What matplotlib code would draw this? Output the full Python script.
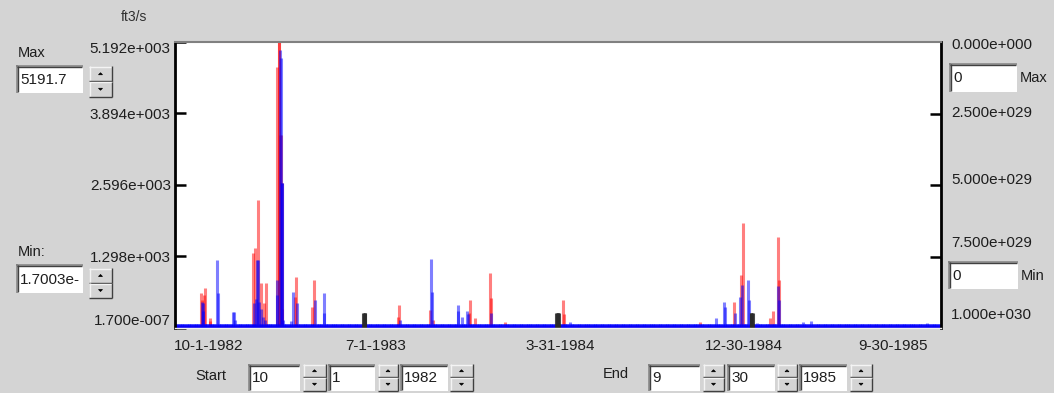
import numpy as np
import matplotlib
matplotlib.use("Agg")
import matplotlib.pyplot as plt
from matplotlib.patches import Rectangle, Polygon
from matplotlib.lines import Line2D

# ---------------- data ----------------
n_days = 1096                      # 10-1-1982 .. 9-30-1985, daily
y_min = 1.7e-7
y_max = 5191.7
left_ticks = [1.7e-7, 1298.0, 2596.0, 3894.0, 5191.7]
right_tick_vals = [2.5e29, 5.0e29, 7.5e29]
right_labels = ["0.000e+000", "2.500e+029", "5.000e+029", "7.500e+029", "1.000e+030"]
date_labels = ["10-1-1982", "7-1-1983", "3-31-1984", "12-30-1984", "9-30-1985"]

red_base = 45.0
blue_base = 65.0

red_days = [37, 38, 41, 42, 49, 50, 111, 114, 118, 122, 127, 130, 146, 148, 149, 150, 151,
            152, 153, 171, 173, 196, 199, 319, 320, 364, 368, 420, 421, 429, 450, 451, 471,
            555, 556, 750, 800, 809, 812, 851, 855, 862, 863]
red_vals = [640, 500, 600, 720, 180, 120, 1360, 1450, 2320, 815, 450, 815, 4740, 5192, 5192,
            3500, 3500, 2630, 350, 570, 930, 390, 870, 200, 415, 330, 150, 280, 510, 180,
            1005, 540, 115, 510, 250, 100, 480, 960, 1905, 180, 300, 1650, 870]

blue_days = [38, 39, 40, 60, 61, 83, 84, 85, 113, 115, 117, 118, 120, 122, 125, 128, 145,
             146, 150, 151, 152, 153, 154, 165, 169, 174, 200, 212, 213, 321, 366, 367, 404,
             405, 410, 417, 419, 452, 564, 774, 785, 787, 801, 808, 811, 820, 821, 832, 862,
             863, 898, 909, 1076]
blue_vals = [480, 460, 300, 1235, 635, 290, 290, 150, 450, 520, 1235, 1235, 480, 350, 200,
             150, 600, 870, 5050, 4900, 2630, 2630, 140, 130, 660, 450, 500, 635, 270, 150,
             1250, 660, 415, 300, 205, 300, 250, 280, 115, 180, 480, 380, 270, 570, 780, 870,
             510, 90, 760, 500, 100, 130, 90]

black_days = [269, 270, 271, 272, 545, 546, 547, 548, 549, 823, 824, 825, 826]
black_vals = [265, 270, 270, 265, 265, 270, 270, 270, 265, 265, 270, 270, 265]

# ---------------- figure ----------------
W, H = 1054, 393
BG = "#d4d4d4"
FONT = "Liberation Sans"
TXT = "#1e1e1e"
plt.rcParams["font.family"] = [FONT, "DejaVu Sans"]

fig = plt.figure(figsize=(W / 100, H / 100), dpi=100, facecolor=BG)


def fx(x):
    return x / W


def fy(y):
    return 1 - y / H


ax_l, ax_r, ax_t, ax_b = 175, 941, 42, 328
ax = fig.add_axes([fx(ax_l), fy(ax_b), (ax_r - ax_l) / W, (ax_b - ax_t) / H])
ax.set_facecolor("white")

days = np.arange(n_days)
red = np.full(n_days, red_base)
red[red_days] = red_vals
blue = np.full(n_days, blue_base)
blue[blue_days] = blue_vals
black = np.zeros(n_days)
black[black_days] = black_vals

lw = 2.2
ax.vlines(days, 0, red, colors="#ff0000", alpha=0.5, lw=lw)
ax.vlines(days, 0, blue, colors="#0000ff", alpha=0.5, lw=lw)
nz = black > 0
ax.vlines(days[nz], 0, black[nz], colors="#2a2a2a", alpha=0.85, lw=lw)

ax.set_xlim(-0.5, n_days - 0.5)
ax.set_ylim(y_min, y_max)
ax.set_xticks([])


def fmt(v):
    m, e = f"{v:.3e}".split("e")
    sign = e[0]
    return f"{m}e{sign}{int(e[1:]):03d}"


ax.set_yticks(left_ticks)
ax.set_yticklabels([fmt(v) for v in left_ticks], fontsize=11, color=TXT)
ax.tick_params(axis="y", direction="in", length=8, width=1.8, color="black", pad=3)
labs = ax.get_yticklabels()
labs[0].set_va("bottom")
labs[-1].set_va("top")

for side in ["left", "right"]:
    ax.spines[side].set_color("black")
    ax.spines[side].set_linewidth(2.0)
ax.spines["top"].set_color("#808080")
ax.spines["top"].set_linewidth(1.5)
ax.spines["bottom"].set_color("#f0f0f0")
ax.spines["bottom"].set_linewidth(1.0)

# right axis (inverted, empty series)
ax2 = ax.twinx()
ax2.set_ylim(1.0e30, 0.0)
ax2.set_yticks(right_tick_vals)
ax2.set_yticklabels([])
ax2.tick_params(axis="y", direction="in", length=8, width=1.8, color="black")
for s in ax2.spines.values():
    s.set_visible(False)

# right-hand labels (offset in the original widget to make room for the boxes)
for lab, ypix in zip(right_labels, [45, 113, 180, 243, 315]):
    fig.text(fx(951), fy(ypix), lab, ha="left", va="center", fontsize=11, color=TXT)

# date labels under the plot
for lab, xpix in zip(date_labels, [209, 376, 560, 744, 893]):
    fig.text(fx(xpix), fy(346), lab, ha="center", va="center", fontsize=11, color=TXT)

fig.text(fx(134), fy(17), "ft3/s", ha="center", va="center", fontsize=10, color="#303030")


# ---------------- widgets ----------------
def line(xs, ys, color, lw=1.0):
    fig.add_artist(Line2D([fx(x) for x in xs], [fy(y) for y in ys],
                          transform=fig.transFigure, color=color, lw=lw,
                          solid_capstyle="butt"))


def textbox(x0, y0, x1, y1, text):
    fig.add_artist(Rectangle((fx(x0), fy(y1)), (x1 - x0) / W, (y1 - y0) / H,
                             transform=fig.transFigure, facecolor="white",
                             edgecolor="none"))
    line([x0, x1], [y0 + 0.5, y0 + 0.5], "#808080", 1.2)
    line([x0 + 0.5, x0 + 0.5], [y0, y1], "#808080", 1.2)
    line([x0 + 1, x1 - 1], [y0 + 1.7, y0 + 1.7], "#404040", 1.0)
    line([x0 + 1.7, x0 + 1.7], [y0 + 1, y1 - 1], "#404040", 1.0)
    fig.text(fx(x0 + 4), fy((y0 + y1) / 2 + 1), text, ha="left", va="center",
             fontsize=11, color=TXT)


def spinner(x0, y0, x1, y1):
    ym = (y0 + y1) / 2
    fig.add_artist(Rectangle((fx(x0), fy(y1)), (x1 - x0) / W, (y1 - y0) / H,
                             transform=fig.transFigure, facecolor=BG,
                             edgecolor="none"))
    for a, b in [(y0, ym), (ym, y1)]:
        line([x0, x1], [a + 0.5, a + 0.5], "#f4f4f4", 1.0)
        line([x0 + 0.5, x0 + 0.5], [a, b], "#f4f4f4", 1.0)
        line([x0, x1], [b - 0.5, b - 0.5], "#404040", 1.0)
        line([x1 - 0.5, x1 - 0.5], [a, b], "#404040", 1.0)
    cx = (x0 + x1) / 2
    for a, b, up in [(y0, ym, True), (ym, y1, False)]:
        cy = (a + b) / 2
        if up:
            pts = [(cx - 2, cy + 1), (cx + 2, cy + 1), (cx, cy - 1)]
        else:
            pts = [(cx - 2, cy - 1), (cx + 2, cy - 1), (cx, cy + 1)]
        fig.add_artist(Polygon([(fx(px), fy(py)) for px, py in pts], closed=True,
                               transform=fig.transFigure, facecolor="black",
                               edgecolor="black", lw=0.5))


# left Max / Min
fig.text(fx(18), fy(53), "Max", ha="left", va="center", fontsize=10.5, color=TXT)
textbox(16, 65, 83, 93, "5191.7")
spinner(89, 66, 112, 97)
fig.text(fx(18), fy(252), "Min:", ha="left", va="center", fontsize=10.5, color=TXT)
textbox(16, 264, 83, 293, "1.7003e-")
spinner(89, 268, 112, 298)

# right Max / Min
textbox(949, 63, 1017, 92, "0")
fig.text(fx(1020), fy(78), "Max", ha="left", va="center", fontsize=10.5, color=TXT)
textbox(948, 261, 1018, 289, "0")
fig.text(fx(1021), fy(276), "Min", ha="left", va="center", fontsize=10.5, color=TXT)

# start / end date controls
fig.text(fx(195), fy(376), "Start", ha="left", va="center", fontsize=10.5, color=TXT)
for (a, b), (sa, sb), t in zip([(248, 300), (328, 375), (400, 448)],
                               [(303, 326), (378, 398), (450, 473)],
                               ["10", "1", "1982"]):
    textbox(a, 364, b, 391, t)
    spinner(sa, 364, sb, 391)

fig.text(fx(603), fy(374), "End", ha="left", va="center", fontsize=10.5, color=TXT)
for (a, b), (sa, sb), t in zip([(648, 700), (727, 775), (799, 847)],
                               [(703, 724), (777, 797), (850, 872)],
                               ["9", "30", "1985"]):
    textbox(a, 364, b, 391, t)
    spinner(sa, 364, sb, 391)

fig.savefig("out.png", dpi=100, facecolor=BG)
